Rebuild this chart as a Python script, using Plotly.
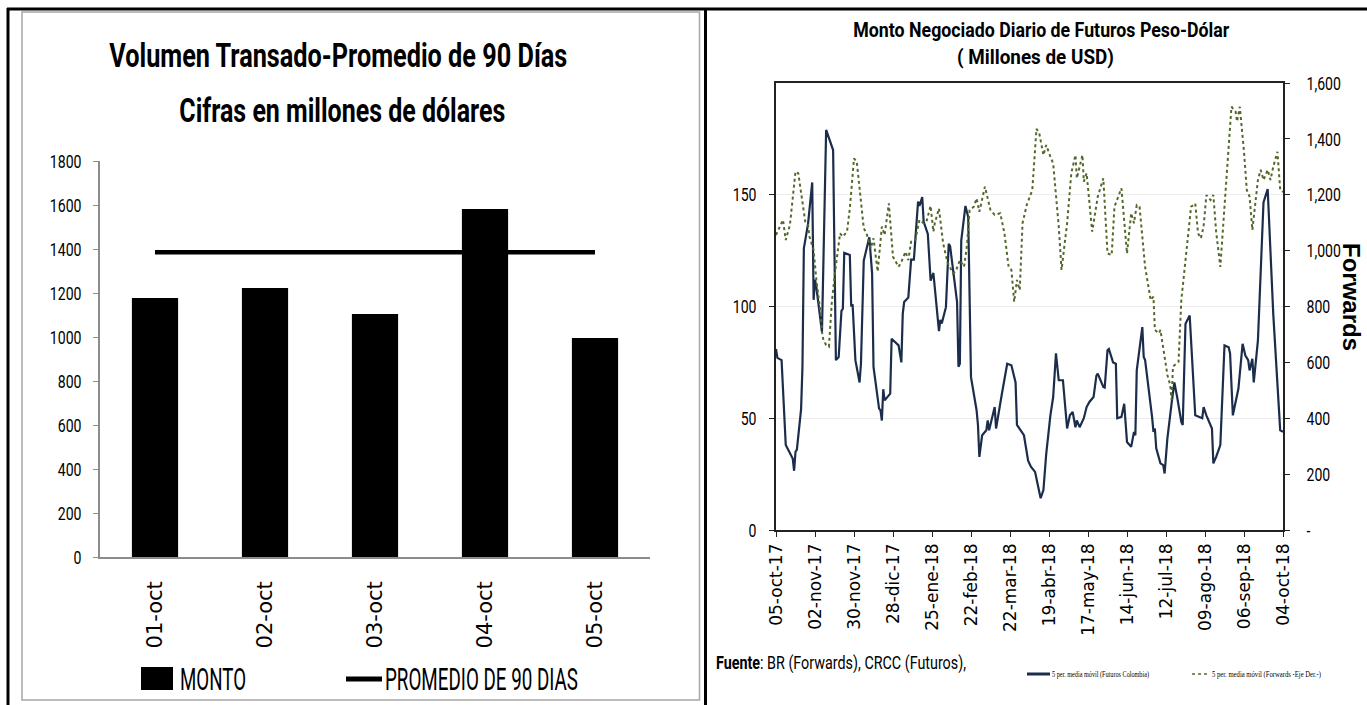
import json
import plotly.graph_objects as go

W, H = 1367, 705

# ---- Left chart: daily traded volume vs 90-day average ----
days = ["01-oct", "02-oct", "03-oct", "04-oct", "05-oct"]
monto = [1177, 1223, 1105, 1582, 995]
promedio_90 = [1385, 1385, 1385, 1385, 1385]

# ---- Right chart: 5-period moving averages ----
fut_dates = [
    "2017-10-05", "2017-10-06", "2017-10-09", "2017-10-12", "2017-10-17", "2017-10-18",
    "2017-10-19", "2017-10-20", "2017-10-23", "2017-10-24", "2017-10-25", "2017-10-28",
    "2017-10-31", "2017-11-01", "2017-11-02", "2017-11-03", "2017-11-07", "2017-11-10",
    "2017-11-15", "2017-11-17", "2017-11-19", "2017-11-21", "2017-11-22", "2017-11-23",
    "2017-11-27", "2017-11-28", "2017-11-29", "2017-11-30", "2017-12-01", "2017-12-04",
    "2017-12-05", "2017-12-07", "2017-12-11", "2017-12-13", "2017-12-14", "2017-12-18",
    "2017-12-19", "2017-12-20", "2017-12-21", "2017-12-22", "2017-12-26", "2017-12-27",
    "2018-01-01", "2018-01-03", "2018-01-04", "2018-01-05", "2018-01-08", "2018-01-10",
    "2018-01-12", "2018-01-15", "2018-01-16", "2018-01-18", "2018-01-19", "2018-01-22",
    "2018-01-24", "2018-01-26", "2018-01-27", "2018-01-30", "2018-01-31", "2018-02-01",
    "2018-02-04", "2018-02-06", "2018-02-07", "2018-02-12", "2018-02-13", "2018-02-14",
    "2018-02-15", "2018-02-18", "2018-02-20", "2018-02-22", "2018-02-26", "2018-02-27",
    "2018-02-28", "2018-03-02", "2018-03-05", "2018-03-06", "2018-03-07", "2018-03-11",
    "2018-03-12", "2018-03-14", "2018-03-16", "2018-03-20", "2018-03-23", "2018-03-26",
    "2018-03-27", "2018-04-01", "2018-04-04", "2018-04-06", "2018-04-09", "2018-04-11",
    "2018-04-13", "2018-04-15", "2018-04-17", "2018-04-20", "2018-04-22", "2018-04-24",
    "2018-04-26", "2018-04-29", "2018-05-02", "2018-05-04", "2018-05-06", "2018-05-08",
    "2018-05-09", "2018-05-11", "2018-05-14", "2018-05-16", "2018-05-18", "2018-05-21",
    "2018-05-23", "2018-05-24", "2018-05-28", "2018-05-29", "2018-05-31", "2018-06-01",
    "2018-06-04", "2018-06-06", "2018-06-07", "2018-06-10", "2018-06-12", "2018-06-14",
    "2018-06-17", "2018-06-19", "2018-06-20", "2018-06-21", "2018-06-25", "2018-06-26",
    "2018-06-27", "2018-07-02", "2018-07-03", "2018-07-04", "2018-07-05", "2018-07-08",
    "2018-07-10", "2018-07-11", "2018-07-13", "2018-07-16", "2018-07-18", "2018-07-20",
    "2018-07-23", "2018-07-24", "2018-07-25", "2018-07-26", "2018-07-29", "2018-07-31",
    "2018-08-02", "2018-08-07", "2018-08-08", "2018-08-10", "2018-08-13", "2018-08-14",
    "2018-08-15", "2018-08-17", "2018-08-20", "2018-08-23", "2018-08-26", "2018-08-27",
    "2018-08-29", "2018-09-02", "2018-09-05", "2018-09-07", "2018-09-09", "2018-09-10",
    "2018-09-12", "2018-09-13", "2018-09-16", "2018-09-20", "2018-09-23", "2018-09-27",
    "2018-10-01", "2018-10-02", "2018-10-04",
]
fut_vals = [
    81, 77, 76, 38, 32, 26.5,
    35, 36, 54, 73, 126, 137,
    155.5, 103, 112, 108.6, 88.5, 179,
    170, 76, 77.4, 98, 99, 124,
    123, 100, 101, 88, 76, 66,
    74.5, 120.5, 131, 114.7, 73, 54.3,
    53.6, 49, 63, 58, 61, 85.6,
    82.6, 75, 96.7, 102, 104, 121,
    121, 147, 145, 149, 138, 132.5,
    111.6, 115, 108.6, 89, 94, 92.4,
    99.7, 128, 127, 102, 73, 74.4,
    129.5, 145, 140, 68.4, 53.6, 47,
    32.7, 42.4, 44.6, 49, 44.6, 55,
    45.4, 53.6, 60.3, 74.4, 73.7, 66,
    47, 42.4, 31, 28.3, 26, 20,
    14.2, 17.9, 34, 51.3, 59.5, 79,
    67, 67, 45.4, 51.3, 52.8, 46,
    49, 46, 50, 55, 57.3, 59.5,
    69, 70, 64, 63.7, 80.4, 81,
    75, 74.4, 50, 50.6, 56.5, 39.4,
    37.2, 43.9, 42.4, 71.4, 90.8, 77.4,
    76, 50.6, 43.9, 45.4, 36.5, 29.8,
    29, 25.3, 41, 56.5, 66, 59.5,
    48.4, 47, 70, 92.3, 96, 76,
    51.3, 50, 55, 51.3, 47, 45.4,
    29.8, 32.7, 38, 82.6, 81.8, 79,
    51.3, 63.3, 83.3, 78, 76, 71.4,
    76.6, 66, 84.8, 146.6, 152.5, 96.7,
    55, 44.6, 43.9,
]

fwd_dates = [
    "2017-10-05", "2017-10-08", "2017-10-10", "2017-10-12", "2017-10-15", "2017-10-19",
    "2017-10-21", "2017-10-26", "2017-10-28", "2017-10-29", "2017-11-01", "2017-11-03",
    "2017-11-06", "2017-11-07", "2017-11-08", "2017-11-10", "2017-11-12", "2017-11-14",
    "2017-11-16", "2017-11-20", "2017-11-22", "2017-11-25", "2017-11-27", "2017-11-30",
    "2017-12-02", "2017-12-07", "2017-12-09", "2017-12-12", "2017-12-14", "2017-12-17",
    "2017-12-20", "2017-12-22", "2017-12-25", "2017-12-28", "2018-01-01", "2018-01-03",
    "2018-01-06", "2018-01-08", "2018-01-10", "2018-01-13", "2018-01-16", "2018-01-19",
    "2018-01-21", "2018-01-24", "2018-01-26", "2018-01-27", "2018-01-30", "2018-02-02",
    "2018-02-05", "2018-02-09", "2018-02-11", "2018-02-14", "2018-02-17", "2018-02-19",
    "2018-02-21", "2018-02-24", "2018-02-26", "2018-02-28", "2018-03-04", "2018-03-08",
    "2018-03-11", "2018-03-15", "2018-03-18", "2018-03-21", "2018-03-23", "2018-03-25",
    "2018-03-27", "2018-03-29", "2018-03-31", "2018-04-03", "2018-04-07", "2018-04-10",
    "2018-04-12", "2018-04-15", "2018-04-17", "2018-04-20", "2018-04-22", "2018-04-26",
    "2018-04-28", "2018-05-02", "2018-05-05", "2018-05-08", "2018-05-09", "2018-05-13",
    "2018-05-14", "2018-05-16", "2018-05-20", "2018-05-24", "2018-05-28", "2018-05-31",
    "2018-06-03", "2018-06-05", "2018-06-08", "2018-06-10", "2018-06-14", "2018-06-17",
    "2018-06-19", "2018-06-21", "2018-06-23", "2018-06-27", "2018-07-01", "2018-07-03",
    "2018-07-04", "2018-07-07", "2018-07-08", "2018-07-11", "2018-07-13", "2018-07-15",
    "2018-07-16", "2018-07-17", "2018-07-21", "2018-07-23", "2018-07-27", "2018-07-30",
    "2018-08-02", "2018-08-04", "2018-08-06", "2018-08-08", "2018-08-10", "2018-08-13",
    "2018-08-15", "2018-08-17", "2018-08-20", "2018-08-23", "2018-08-26", "2018-08-28",
    "2018-08-31", "2018-09-01", "2018-09-03", "2018-09-06", "2018-09-08", "2018-09-10",
    "2018-09-12", "2018-09-14", "2018-09-16", "2018-09-18", "2018-09-20", "2018-09-23",
    "2018-09-25", "2018-09-27", "2018-09-30", "2018-10-02", "2018-10-04",
]
fwd_vals = [
    1056, 1086, 1110, 1038, 1092, 1283,
    1277, 1104, 1092, 1050, 1002, 895,
    776, 710, 680, 662, 656, 811,
    907, 1062, 1050, 1068, 1151, 1330,
    1318, 1080, 1062, 1008, 1044, 925,
    1086, 1056, 1169, 978, 942, 960,
    996, 966, 1032, 1038, 1110, 1098,
    1104, 1160, 1068, 1098, 1151, 1026,
    960, 919, 925, 966, 942, 1014,
    1145, 1157, 1187, 1139, 1229, 1145,
    1128, 1134, 1062, 942, 931, 817,
    895, 859, 1098, 1163, 1217, 1436,
    1420, 1342, 1378, 1336, 1312, 1086,
    931, 1098, 1277, 1342, 1259, 1342,
    1247, 1277, 1068, 1193, 1259, 990,
    984, 1157, 1193, 1223, 990, 1134,
    1098, 1163, 1157, 942, 823, 835,
    716, 704, 716, 608, 555, 519,
    465, 585, 602, 823, 1014, 1157,
    1169, 1062, 1044, 1086, 1199, 1181,
    1199, 1068, 942, 1157, 1354, 1515,
    1497, 1462, 1515, 1354, 1217, 1193,
    1074, 1157, 1253, 1289, 1253, 1289,
    1253, 1300, 1354, 1217, 1210,
]

tick_dates = [
    "2017-10-05", "2017-11-02", "2017-11-30", "2017-12-28", "2018-01-25", "2018-02-22",
    "2018-03-22", "2018-04-19", "2018-05-17", "2018-06-14", "2018-07-12", "2018-08-09",
    "2018-09-06", "2018-10-04",
]
tick_labels = [
    "05-oct-17", "02-nov-17", "30-nov-17", "28-dic-17", "25-ene-18", "22-feb-18",
    "22-mar-18", "19-abr-18", "17-may-18", "14-jun-18", "12-jul-18", "09-ago-18",
    "06-sep-18", "04-oct-18",
]
fut_ticks = [0, 50, 100, 150]
fwd_ticks = [0, 200, 400, 600, 800, 1000, 1200, 1400, 1600]
fwd_tick_text = ["-"] + [f"{v:,}" for v in fwd_ticks[1:]]

NARROW = "Roboto, Liberation Sans, sans-serif"
WIDE = "DejaVu Sans, Verdana, sans-serif"
SERIF = "Liberation Serif, Times New Roman, serif"
NAVY = "#1b2d4b"
OLIVE = "#52692b"


def px(x):
    return x / W


def py(y):
    return 1 - y / H


def narrow(size, weight="normal"):
    return dict(family=NARROW, size=size, color="black", weight=weight)


fig = go.Figure()

fig.add_trace(go.Bar(
    x=days, y=monto, name="MONTO", marker=dict(color="black", line=dict(width=0)),
    width=0.42, xaxis="x", yaxis="y", showlegend=False,
))
fig.add_trace(go.Scatter(
    x=days, y=promedio_90, name="PROMEDIO DE 90 DIAS", mode="lines",
    line=dict(color="black", width=4.5), xaxis="x", yaxis="y", showlegend=False,
))
fig.add_trace(go.Scatter(
    x=fut_dates, y=fut_vals, name="5 per. media móvil (Futuros Colombia)", mode="lines",
    line=dict(color=NAVY, width=2.2), xaxis="x2", yaxis="y2", showlegend=False,
))
fig.add_trace(go.Scatter(
    x=fwd_dates, y=fwd_vals, name="5 per. media móvil (Forwards -Eje Der.-)", mode="lines",
    line=dict(color=OLIVE, width=2, dash="dot"), xaxis="x2", yaxis="y3", showlegend=False,
))

grey_axis = "#8c8c8c"
fig.update_layout(
    width=W, height=H,
    margin=dict(l=0, r=0, t=0, b=0),
    paper_bgcolor="white", plot_bgcolor="rgba(0,0,0,0)",
    xaxis=dict(
        domain=[px(100), px(650)], anchor="y", type="category", range=[-0.5, 4.5],
        showline=True, linecolor=grey_axis, linewidth=1.5, ticks="", showgrid=False,
        tickangle=-90, ticklabelstandoff=14, automargin=False,
        tickfont=dict(family=WIDE, size=21, color="black"),
    ),
    yaxis=dict(
        domain=[py(557), py(161)], anchor="x", range=[0, 1800], dtick=200,
        showline=True, linecolor=grey_axis, linewidth=1.5, ticks="outside", ticklen=5,
        tickcolor=grey_axis, showgrid=False, zeroline=False, ticklabelstandoff=8,
        automargin=False, tickfont=narrow(19),
    ),
    xaxis2=dict(
        domain=[px(776), px(1283)], anchor="y2", type="date",
        range=["2017-10-05", "2018-10-04"], tickvals=tick_dates, ticktext=tick_labels,
        tickangle=-90, ticks="outside", ticklen=5, tickcolor="#222", showline=True,
        linecolor="#222", linewidth=1.5, mirror=True, showgrid=False, automargin=False,
        tickfont=dict(family=WIDE, size=17, color="black"),
    ),
    yaxis2=dict(
        domain=[py(530), py(83)], anchor="x2", range=[0, 200], tickvals=fut_ticks,
        showline=True, linecolor="#222", linewidth=1.5, ticks="outside", ticklen=5,
        tickcolor="#222", showgrid=True, gridcolor="#ececec", gridwidth=1, zeroline=False,
        ticklabelstandoff=9, automargin=False, tickfont=narrow(19),
    ),
    yaxis3=dict(
        overlaying="y2", anchor="x2", side="right", range=[0, 1600], tickvals=fwd_ticks,
        ticktext=fwd_tick_text, showline=True, linecolor="#222", linewidth=1.5,
        ticks="outside", ticklen=5, tickcolor="#222", showgrid=False, zeroline=False,
        ticklabelstandoff=13, automargin=False, tickfont=narrow(19),
    ),
)

shapes = [
    # outer frame and panel divider
    dict(type="line", xref="paper", yref="paper", x0=px(7), x1=1, y0=py(9), y1=py(9),
         line=dict(color="black", width=3)),
    dict(type="line", xref="paper", yref="paper", x0=px(8), x1=px(8), y0=0, y1=py(8),
         line=dict(color="black", width=3)),
    dict(type="line", xref="paper", yref="paper", x0=px(705.5), x1=px(705.5), y0=0, y1=py(8),
         line=dict(color="black", width=3)),
    # left chart area border
    dict(type="rect", xref="paper", yref="paper", x0=px(22), x1=px(699.5), y0=py(700),
         y1=py(12), line=dict(color="#a6a6a6", width=1.5)),
    # left legend swatches
    dict(type="rect", xref="paper", yref="paper", x0=px(141), x1=px(173), y0=py(690),
         y1=py(667), fillcolor="black", line=dict(width=0)),
    dict(type="line", xref="paper", yref="paper", x0=px(346), x1=px(382), y0=py(679),
         y1=py(679), line=dict(color="black", width=5)),
    # right legend swatches
    dict(type="line", xref="paper", yref="paper", x0=px(1027), x1=px(1050), y0=py(674),
         y1=py(674), line=dict(color=NAVY, width=3)),
    dict(type="line", xref="paper", yref="paper", x0=px(1192), x1=px(1210), y0=py(674),
         y1=py(674), line=dict(color=OLIVE, width=1.5, dash="dot")),
]


def note(text, x, y, font, xanchor="center", angle=0):
    return dict(
        text=text, xref="paper", yref="paper", x=px(x), y=py(y), xanchor=xanchor,
        align="left" if xanchor == "left" else "center", yanchor="middle",
        showarrow=False, textangle=angle, font=font,
    )


serif_tiny = dict(family=SERIF, size=8, color="black")

annotations = [
    note("Volumen Transado-Promedio de 90 Días", 338, 55, narrow(33, "bold")),
    note("Cifras en millones de dólares", 342, 110, narrow(33, "bold")),
    note("MONTO", 178, 679, narrow(31), xanchor="left"),
    note("PROMEDIO DE 90 DIAS", 383, 679, narrow(31), xanchor="left"),
    note("Monto Negociado Diario de Futuros Peso-Dólar", 1041, 30, narrow(21, "bold")),
    note("( Millones de USD)", 1035, 57, narrow(21, "bold")),
    note("Forwards", 1352, 297,
         dict(family="Liberation Sans, Arial, sans-serif", size=24, color="black",
              weight="bold"), angle=90),
    note("<b>Fuente</b>: BR (Forwards), CRCC (Futuros),", 714, 663, narrow(18),
         xanchor="left"),
    note("5 per. media móvil (Futuros Colombia)", 1050, 674, serif_tiny, xanchor="left"),
    note("5 per. media móvil (Forwards -Eje Der.-)", 1210, 674, serif_tiny, xanchor="left"),
]

fig.update_layout(shapes=shapes, annotations=annotations)

# Condensed lettering: squeeze Roboto / serif text horizontally to the widths
# the printed layout uses (title and legend lines get explicit widths).
text_widths = {
    "Volumen Transado-Promedio de 90 Días": 458,
    "Cifras en millones de dólares": 326,
    "MONTO": 66,
    "PROMEDIO DE 90 DIAS": 193,
    "Monto Negociado Diario de Futuros Peso-Dólar": 376,
    "( Millones de USD)": 157,
    "Fuente: BR (Forwards), CRCC (Futuros),": 250,
    "5 per. media móvil (Futuros Colombia)": 97,
    "5 per. media móvil (Forwards -Eje Der.-)": 109,
}
squeeze_js = """
var gd = document.getElementById('{plot_id}');
var widths = %s;
gd.querySelectorAll('text').forEach(function (t) {
  var fam = (t.style.fontFamily || '') + (t.getAttribute('font-family') || '');
  if (fam.indexOf('Roboto') < 0 && fam.indexOf('Serif') < 0) { return; }
  var txt = t.textContent;
  var w = t.getComputedTextLength();
  if (!w) { return; }
  var target = widths.hasOwnProperty(txt) ? widths[txt] : w * 0.74;
  t.setAttribute('textLength', target);
  t.setAttribute('lengthAdjust', 'spacingAndGlyphs');
});
""" % json.dumps(text_widths, ensure_ascii=False)

fig.write_html("out.html", post_script=squeeze_js)
